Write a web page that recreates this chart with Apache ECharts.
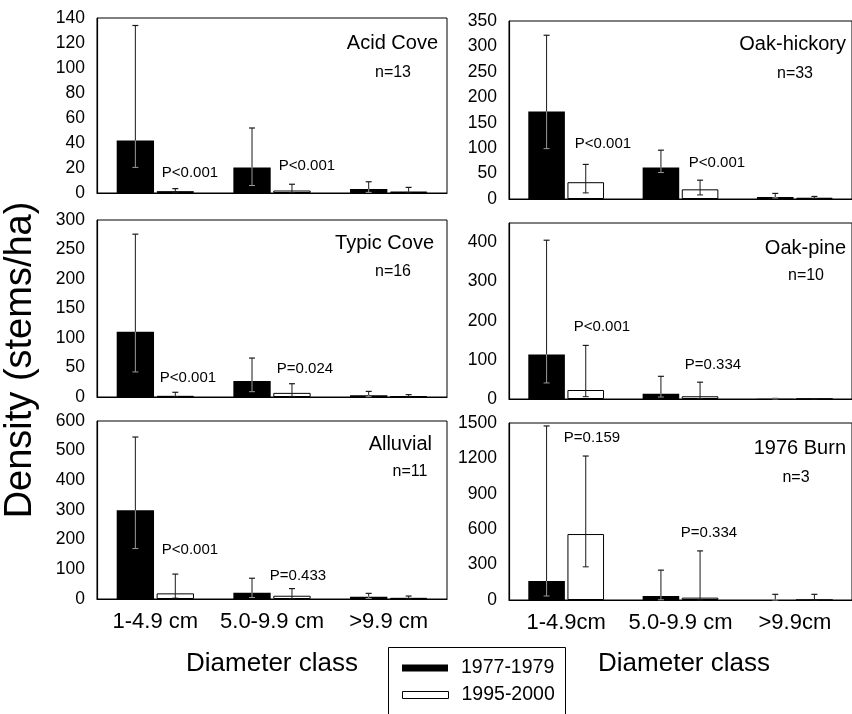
<!DOCTYPE html>
<html>
<head>
<meta charset="utf-8">
<script src="https://cdn.jsdelivr.net/npm/echarts@6/dist/echarts.min.js"></script>
<style>
html,body{margin:0;padding:0;background:#fff;}
#chart{width:852px;height:714px;}
</style>
</head>
<body>
<div id="chart"></div>
<script>
// ---------- data ----------
const catsLeft = ['1-4.9 cm', '5.0-9.9 cm', '>9.9 cm'];
const catsRight = ['1-4.9cm', '5.0-9.9 cm', '>9.9cm'];
const seriesNames = ['1977-1979', '1995-2000'];

// Acid Cove
const acidOld = [42, 20.5, 3.2];
const acidOldLow = [20.5, 6, 0.5];
const acidOldHigh = [134, 52, 9];
const acidNew = [1.5, 2, 1.2];
const acidNewLow = [0.3, 0.3, 0.2];
const acidNewHigh = [3.5, 7, 4.5];

// Oak-hickory
const hickOld = [172, 62, 4];
const hickOldLow = [99, 52, 2];
const hickOldHigh = [322, 96, 11];
const hickNew = [33, 19, 2.5];
const hickNewLow = [12, 8, 1];
const hickNewHigh = [68, 37, 5];

// Typic Cove
const typicOld = [110.5, 27, 3];
const typicOldLow = [42.5, 9, 0.5];
const typicOldHigh = [276, 66, 9.5];
const typicNew = [2, 7, 1.5];
const typicNewLow = [0.5, 1, 0.2];
const typicNewHigh = [8, 22.5, 4];

// Oak-pine
const pineOld = [114, 13.5, 0.8];
const pineOldLow = [41, 5, 0.3];
const pineOldHigh = [406, 58, 1.5];
const pineNew = [23, 7, 0.5];
const pineNewLow = [6, 1, 0.2];
const pineNewHigh = [137, 43, 1];

// Alluvial
const alluvOld = [299, 21, 8];
const alluvOldLow = [170, 5, 2];
const alluvOldHigh = [546, 70, 19];
const alluvNew = [19, 11, 4];
const alluvNewLow = [3, 1, 0.5];
const alluvNewHigh = [84, 35, 10];

// 1976 Burn
const burnOld = [161, 34, 0];
const burnOldLow = [34, 2, 0];
const burnOldHigh = [1475, 253, 48];
const burnNew = [559, 20, 0];
const burnNewLow = [281, 1, 0];
const burnNewHigh = [1220, 416, 48];

// axis ranges
const yMax = [140, 350, 300, 450, 600, 1500];
const yInterval = [20, 50, 50, 100, 100, 300];

// ---------- layout ----------
const FONT = 'Liberation Sans, Arial, sans-serif';
const panels = [
  {title: 'Acid Cove', n: 'n=13', cats: catsLeft, old: acidOld, oldLo: acidOldLow, oldHi: acidOldHigh, nw: acidNew, nwLo: acidNewLow, nwHi: acidNewHigh,
   grid: {left: 97, top: 18, width: 350, height: 175}, bottom: false,
   titlePos: [438, 43], nPos: [393, 73], p: [['P<0.001', 190, 173], ['P<0.001', 307, 166]]},
  {title: 'Oak-hickory', n: 'n=33', cats: catsRight, old: hickOld, oldLo: hickOldLow, oldHi: hickOldHigh, nw: hickNew, nwLo: hickNewLow, nwHi: hickNewHigh,
   grid: {left: 509, top: 21, width: 350, height: 178}, bottom: false,
   titlePos: [846, 44], nPos: [795, 74], p: [['P<0.001', 603, 144], ['P<0.001', 717, 163]]},
  {title: 'Typic Cove', n: 'n=16', cats: catsLeft, old: typicOld, oldLo: typicOldLow, oldHi: typicOldHigh, nw: typicNew, nwLo: typicNewLow, nwHi: typicNewHigh,
   grid: {left: 97, top: 220, width: 350, height: 177}, bottom: false,
   titlePos: [434, 243], nPos: [393, 272], p: [['P<0.001', 188, 378], ['P=0.024', 305, 369]]},
  {title: 'Oak-pine', n: 'n=10', cats: catsRight, old: pineOld, oldLo: pineOldLow, oldHi: pineOldHigh, nw: pineNew, nwLo: pineNewLow, nwHi: pineNewHigh,
   grid: {left: 509, top: 223, width: 350, height: 176}, bottom: false,
   titlePos: [846, 248], nPos: [806, 276], p: [['P<0.001', 602, 327], ['P=0.334', 713, 365]]},
  {title: 'Alluvial', n: 'n=11', cats: catsLeft, old: alluvOld, oldLo: alluvOldLow, oldHi: alluvOldHigh, nw: alluvNew, nwLo: alluvNewLow, nwHi: alluvNewHigh,
   grid: {left: 97, top: 421, width: 350, height: 178}, bottom: true,
   titlePos: [432, 444], nPos: [410, 472], p: [['P<0.001', 190, 550], ['P=0.433', 298, 576]]},
  {title: '1976 Burn', n: 'n=3', cats: catsRight, old: burnOld, oldLo: burnOldLow, oldHi: burnOldHigh, nw: burnNew, nwLo: burnNewLow, nwHi: burnNewHigh,
   grid: {left: 509, top: 423, width: 350, height: 177}, bottom: true,
   titlePos: [846, 448], nPos: [796, 478], p: [['P=0.159', 592, 438], ['P=0.334', 709, 533]]}
];

const BAR_W = 0.32;   // fraction of band
const BAR_GAP = 0.07; // fraction of bar width
const OFF = BAR_W / 2 + BAR_W * BAR_GAP / 2;

function errRenderer(sign, isBlack) {
  return function (params, api) {
    const i = api.value(0);
    const lo = api.value(1), hi = api.value(2), v = api.value(3);
    const bw = api.size([1, 0])[0];
    const cx = api.coord([i, v])[0] + sign * bw * OFF;
    const yHi = api.coord([i, hi])[1];
    const yLo = api.coord([i, lo])[1];
    const yV = api.coord([i, v])[1];
    const dark = '#1a1a1a';
    const inner = isBlack ? '#9a9a9a' : dark;
    const cap = 3;
    const children = [
      {type: 'line', shape: {x1: cx, y1: yHi, x2: cx, y2: yV}, style: {stroke: dark, lineWidth: 1}},
      {type: 'line', shape: {x1: cx - cap, y1: yHi, x2: cx + cap, y2: yHi}, style: {stroke: dark, lineWidth: 1.2}},
      {type: 'line', shape: {x1: cx, y1: yV, x2: cx, y2: yLo}, style: {stroke: inner, lineWidth: 1}},
      {type: 'line', shape: {x1: cx - cap, y1: yLo, x2: cx + cap, y2: yLo}, style: {stroke: inner, lineWidth: 1}}
    ];
    return {type: 'group', children: children};
  };
}

const grids = [], xAxes = [], yAxes = [], series = [], graphics = [];
panels.forEach(function (p, k) {
  grids.push(Object.assign({show: true, borderColor: '#000', borderWidth: 1, backgroundColor: 'transparent'}, p.grid));
  xAxes.push({
    type: 'category', gridIndex: k, data: p.cats,
    axisLine: {lineStyle: {color: '#000', width: 1.2}},
    axisTick: {alignWithLabel: true, length: 5, lineStyle: {color: '#000'}},
    axisLabel: {show: p.bottom, interval: 0, hideOverlap: false, fontSize: 22, color: '#000', fontFamily: FONT, margin: 12}
  });
  yAxes.push({
    type: 'value', gridIndex: k, min: 0, max: yMax[k], interval: yInterval[k],
    axisLine: {show: true, lineStyle: {color: '#000', width: 1.2}},
    axisTick: {show: false},
    splitLine: {show: false},
    axisLabel: {fontSize: 17.5, color: '#000', fontFamily: FONT, margin: 12,
      showMaxLabel: yMax[k] % yInterval[k] === 0,
      formatter: function (v) { return String(v); }}
  });
  series.push({
    name: seriesNames[0], type: 'bar', xAxisIndex: k, yAxisIndex: k, data: p.old,
    barWidth: (BAR_W * 100) + '%', barGap: (BAR_GAP * 100) + '%',
    itemStyle: {color: '#000'}, silent: true
  });
  series.push({
    name: seriesNames[1], type: 'bar', xAxisIndex: k, yAxisIndex: k, data: p.nw,
    barWidth: (BAR_W * 100) + '%', barGap: (BAR_GAP * 100) + '%',
    itemStyle: {color: '#fff', borderColor: '#000', borderWidth: 1}, silent: true
  });
  series.push({
    type: 'custom', xAxisIndex: k, yAxisIndex: k, z: 5, silent: true,
    renderItem: errRenderer(-1, true),
    data: p.old.map(function (v, i) { return [i, p.oldLo[i], p.oldHi[i], v]; })
  });
  series.push({
    type: 'custom', xAxisIndex: k, yAxisIndex: k, z: 5, silent: true,
    renderItem: errRenderer(1, false),
    data: p.nw.map(function (v, i) { return [i, p.nwLo[i], p.nwHi[i], v]; })
  });
  graphics.push({type: 'text', x: p.titlePos[0], y: p.titlePos[1],
    style: {text: p.title, font: '20px ' + FONT, fill: '#000', textAlign: 'right', textVerticalAlign: 'middle'}});
  graphics.push({type: 'text', x: p.nPos[0], y: p.nPos[1],
    style: {text: p.n, font: '16px ' + FONT, fill: '#000', textAlign: 'center', textVerticalAlign: 'middle'}});
  p.p.forEach(function (t) {
    graphics.push({type: 'text', x: t[1], y: t[2],
      style: {text: t[0], font: '15px ' + FONT, fill: '#000', textAlign: 'center', textVerticalAlign: 'middle'}});
  });
});

graphics.push({type: 'text', x: 21, y: 360, rotation: Math.PI / 2,
  style: {text: 'Density (stems/ha)', font: '38px ' + FONT, fill: '#000', textAlign: 'center', textVerticalAlign: 'middle'}});
graphics.push({type: 'text', x: 272, y: 664,
  style: {text: 'Diameter class', font: '26px ' + FONT, fill: '#000', textAlign: 'center', textVerticalAlign: 'middle'}});
graphics.push({type: 'text', x: 684, y: 664,
  style: {text: 'Diameter class', font: '26px ' + FONT, fill: '#000', textAlign: 'center', textVerticalAlign: 'middle'}});
graphics.push({type: 'rect', shape: {x: 388.5, y: 647.5, width: 177, height: 80},
  style: {fill: 'none', stroke: '#000', lineWidth: 1}});

const legendCommon = {
  orient: 'vertical', left: 402, itemWidth: 46, itemHeight: 7,
  selectedMode: false, padding: 0,
  textStyle: {fontSize: 19.5, color: '#000', fontFamily: FONT, padding: [0, 0, 0, 8]}
};

const chart = echarts.init(document.getElementById('chart'), null, {renderer: 'canvas'});
chart.setOption({
  backgroundColor: '#fff',
  animation: false,
  textStyle: {fontFamily: FONT},
  grid: grids,
  xAxis: xAxes,
  yAxis: yAxes,
  legend: [
    Object.assign({}, legendCommon, {top: 658, data: [{name: seriesNames[0], icon: 'rect', itemStyle: {color: '#000'}}]}),
    Object.assign({}, legendCommon, {top: 685, data: [{name: seriesNames[1], icon: 'rect', itemStyle: {color: '#fff', borderColor: '#000', borderWidth: 1}}]})
  ],
  graphic: graphics,
  series: series
});
</script>
</body>
</html>
